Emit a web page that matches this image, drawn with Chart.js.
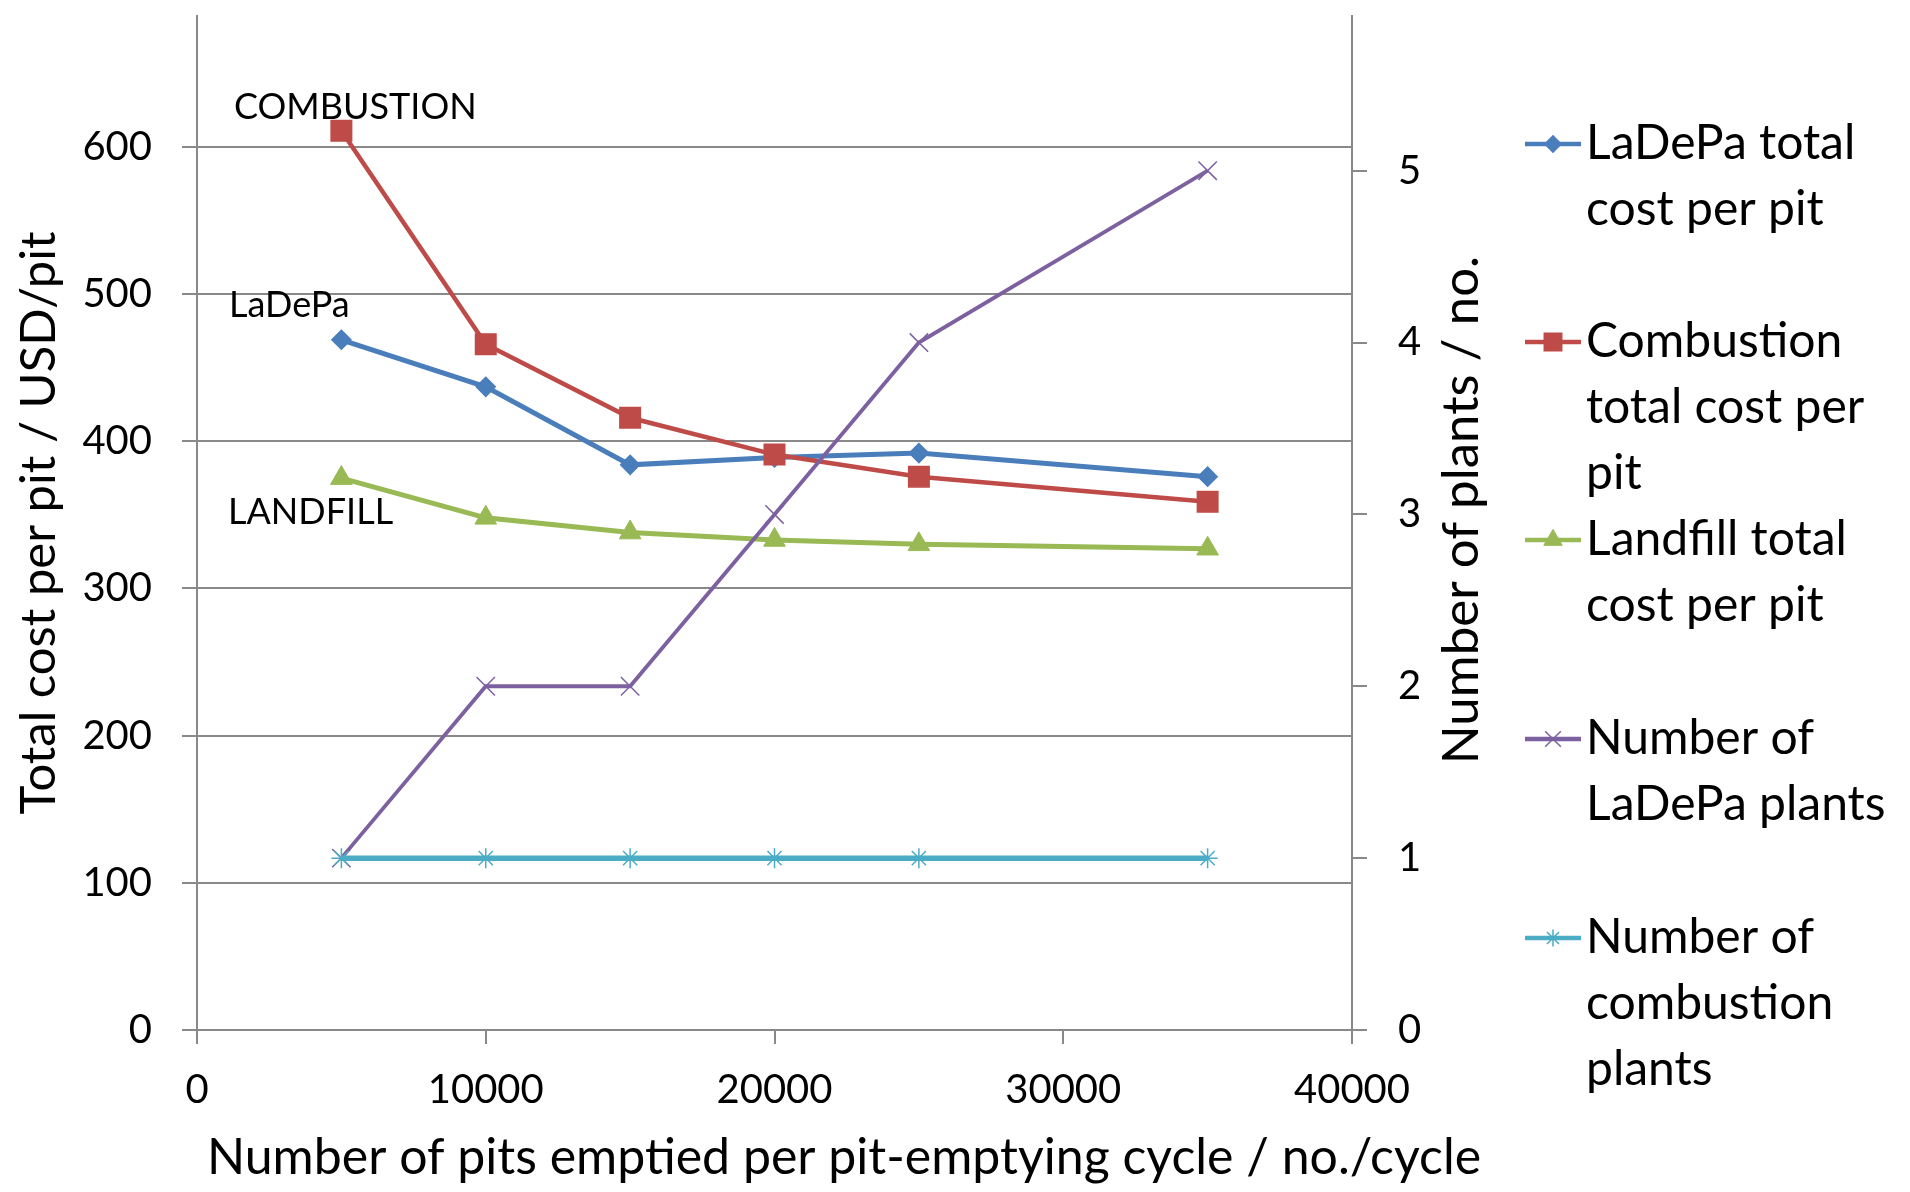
<!DOCTYPE html>
<html>
<head>
<meta charset="utf-8">
<title>Total cost per pit</title>
<script src="https://cdn.jsdelivr.net/npm/chart.js@4.4.1/dist/chart.umd.min.js"></script>
<style>
  html, body { margin: 0; padding: 0; background: #fff; }
  #wrap { width: 1910px; height: 1192px; }
</style>
</head>
<body>
<div id="wrap"><canvas id="myChart" width="1910" height="1192"></canvas></div>
<script>
// values
var pits = [5000, 10000, 15000, 20000, 25000, 35000];
var ladepaCost = [469, 437, 384, 389, 392, 376];
var combustionCost = [611, 466, 416, 391, 376, 359];
var landfillCost = [375, 348, 338, 333, 330, 327];
var ladepaPlants = [1, 2, 2, 3, 4, 5];
var combustionPlants = [1, 1, 1, 1, 1, 1];

var xTicks = [0, 10000, 20000, 30000, 40000];
var costTicks = [0, 100, 200, 300, 400, 500, 600];
var plantTicks = [0, 1, 2, 3, 4, 5];

var legendText = [
  ["LaDePa total", "cost per pit"],
  ["Combustion", "total cost per", "pit"],
  ["Landfill total", "cost per pit"],
  ["Number of", "LaDePa plants"],
  ["Number of", "combustion", "plants"]
];
var curveLabels = ["COMBUSTION", "LaDePa", "LANDFILL"];

var xTitle = "Number of pits emptied per pit-emptying cycle / no./cycle";
var leftTitle = "Total cost per pit / USD/pit";
var rightTitle = "Number of plants / no.";

var GREY = "#898989";

function punti(ys) {
  var out = [];
  for (var i = 0; i < pits.length; i++) {
    out.push({ x: pits[i], y: ys[i] });
  }
  return out;
}

function fissaTicks(lista) {
  return function(scale) {
    scale.ticks = lista.map(function(v) { return { value: v }; });
  };
}

function senzaVirgole(v) {
  return String(v);
}

// text that is not part of the chart.js axes: curve names, titles, legend
var extraText = {
  id: "extraText",
  afterDraw: function(chart) {
    var ctx = chart.ctx;
    var ca = chart.chartArea;
    ctx.save();
    ctx.fillStyle = "#000";
    ctx.textBaseline = "middle";
    ctx.textAlign = "left";

    ctx.font = "36px Lato";
    var labelPos = [[ca.left + 37, 107], [ca.left + 32, 305], [ca.left + 31, 512]];
    for (var i = 0; i < curveLabels.length; i++) {
      ctx.fillText(curveLabels[i], labelPos[i][0], labelPos[i][1]);
    }

    // x title runs past the plot area, so it is drawn here (chart.js would squeeze it)
    ctx.font = "50px Lato";
    ctx.fillText(xTitle, 207, 1158);

    // right axis title reads bottom to top
    ctx.save();
    ctx.font = "51px Lato";
    ctx.textAlign = "center";
    ctx.translate(1462, 510);
    ctx.rotate(-Math.PI / 2);
    ctx.fillText(rightTitle, 0, 0);
    ctx.restore();

    // legend
    var itemY = [144, 342, 540, 739, 938];
    var lineH = 66;
    var ds = chart.data.datasets;
    for (var k = 0; k < ds.length; k++) {
      var d = ds[k];
      var y = itemY[k];
      ctx.strokeStyle = d.borderColor;
      ctx.lineWidth = 4.5;
      ctx.beginPath();
      ctx.moveTo(1525, y);
      ctx.lineTo(1581, y);
      ctx.stroke();
      ctx.fillStyle = d.pointBackgroundColor;
      ctx.strokeStyle = d.borderColor;
      ctx.lineWidth = d.pointBorderWidth;
      if (Chart.helpers && Chart.helpers.drawPoint) {
        Chart.helpers.drawPoint(ctx, {
          pointStyle: d.pointStyle,
          radius: d.pointRadius * 0.85,
          borderWidth: d.pointBorderWidth,
          rotation: 0
        }, 1553, y);
      }
      ctx.fillStyle = "#000";
      ctx.font = "48px Lato";
      for (var j = 0; j < legendText[k].length; j++) {
        ctx.fillText(legendText[k][j], 1586, y + j * lineH);
      }
    }
    ctx.restore();
  }
};

function disegna() {
  Chart.defaults.font.family = "Lato";
  Chart.defaults.color = "#000";

  var ctx = document.getElementById("myChart");
  var chart = new Chart(ctx, {
    type: "line",
    data: {
      datasets: [
        {
          label: "LaDePa total cost per pit",
          data: punti(ladepaCost),
          yAxisID: "y",
          borderColor: "#4a7ebb",
          backgroundColor: "#4a7ebb",
          pointBackgroundColor: "#4a7ebb",
          borderWidth: 5,
          pointStyle: "rectRot",
          pointRadius: 9.5,
          pointBorderWidth: 1.5,
          order: 4
        },
        {
          label: "Combustion total cost per pit",
          data: punti(combustionCost),
          yAxisID: "y",
          borderColor: "#be4b48",
          backgroundColor: "#be4b48",
          pointBackgroundColor: "#be4b48",
          borderWidth: 4.5,
          pointStyle: "rect",
          pointRadius: 14.5,
          pointBorderWidth: 1.5,
          order: 3
        },
        {
          label: "Landfill total cost per pit",
          data: punti(landfillCost),
          yAxisID: "y",
          borderColor: "#98b954",
          backgroundColor: "#98b954",
          pointBackgroundColor: "#98b954",
          borderWidth: 5,
          pointStyle: "triangle",
          pointRadius: 12.5,
          pointBorderWidth: 1,
          order: 2
        },
        {
          label: "Number of LaDePa plants",
          data: punti(ladepaPlants),
          yAxisID: "y2",
          borderColor: "#7d60a0",
          backgroundColor: "#7d60a0",
          pointBackgroundColor: "#7d60a0",
          borderWidth: 3.8,
          pointStyle: "crossRot",
          pointRadius: 13,
          pointBorderWidth: 1.5,
          order: 1
        },
        {
          label: "Number of combustion plants",
          data: punti(combustionPlants),
          yAxisID: "y2",
          borderColor: "#4bacc6",
          backgroundColor: "#4bacc6",
          pointBackgroundColor: "#4bacc6",
          borderWidth: 5.5,
          pointStyle: "star",
          pointRadius: 10,
          pointBorderWidth: 1.5,
          order: 0
        }
      ]
    },
    options: {
      responsive: false,
      animation: false,
      devicePixelRatio: 1,
      layout: { padding: { top: 11, right: 428, left: 0, bottom: 0 } },
      plugins: {
        legend: { display: false },
        tooltip: { enabled: false }
      },
      elements: { line: { tension: 0, fill: false } },
      scales: {
        x: {
          type: "linear",
          min: 0,
          max: 40000,
          afterBuildTicks: fissaTicks(xTicks),
          afterFit: function(s) {
            s.height = 162;
            s.paddingLeft = 0;
            s.paddingRight = 0;
          },
          grid: { drawOnChartArea: false, color: GREY, lineWidth: 2, tickLength: 14 },
          border: { color: GREY, width: 2 },
          ticks: { font: { size: 40 }, padding: 22, maxRotation: 0, autoSkip: false, color: "#000", callback: senzaVirgole }
        },
        y: {
          position: "left",
          min: 0,
          max: 689,
          afterBuildTicks: fissaTicks(costTicks),
          afterFit: function(s) {
            s.width = 197;
            s.paddingTop = 0;
            s.paddingBottom = 0;
          },
          grid: { color: GREY, lineWidth: 2, tickLength: 15 },
          border: { color: GREY, width: 2 },
          ticks: { font: { size: 40 }, padding: 30, color: "#000", callback: senzaVirgole },
          title: { display: true, text: leftTitle, font: { size: 49 }, padding: { top: 10, bottom: 0 }, color: "#000" }
        },
        y2: {
          position: "right",
          min: 0,
          max: 5.9,
          afterBuildTicks: fissaTicks(plantTicks),
          afterFit: function(s) {
            s.width = 130;
            s.paddingTop = 0;
            s.paddingBottom = 0;
          },
          grid: { drawOnChartArea: false, color: GREY, lineWidth: 2, tickLength: 15 },
          border: { color: GREY, width: 2 },
          ticks: { font: { size: 40 }, padding: 31, color: "#000", callback: senzaVirgole }
        }
      }
    },
    plugins: [extraText]
  });
  console.log(chart.chartArea);
}

disegna();
</script>
</body>
</html>
